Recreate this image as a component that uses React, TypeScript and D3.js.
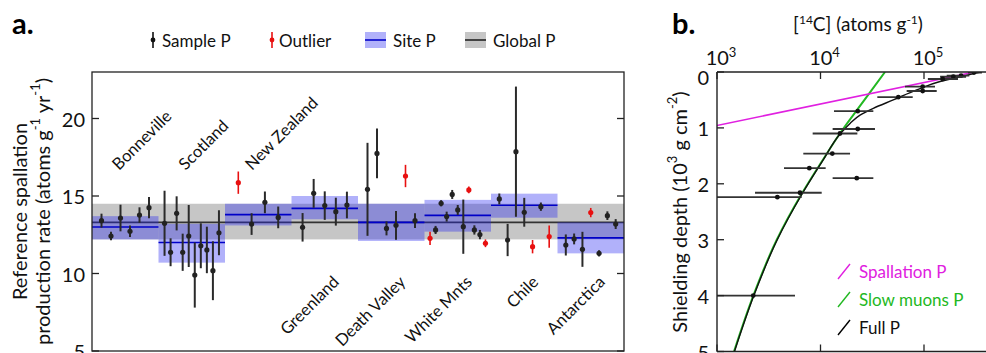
import * as d3 from "d3";
import { useEffect, useRef } from "react";

const W = 986;
const H = 353;

// panel a: sites and production rates (atoms g-1 yr-1)
const sites = ["Bonneville", "Scotland", "New Zealand", "Greenland", "Death Valley", "White Mnts", "Chile", "Antarctica"];
const labelAbove = [true, true, true, false, false, false, false, false];
const siteP = [13.0, 12.0, 13.8, 14.2, 13.3, 13.75, 14.4, 12.3];
const siteLow = [12.2, 10.7, 13.1, 13.5, 12.1, 12.7, 13.6, 11.3];
const siteHigh = [13.7, 13.2, 14.5, 15.0, 14.5, 14.75, 15.15, 13.3];
const globalP = 13.3;
const globalLow = 12.2;
const globalHigh = 14.5;

// samples per site
const sampleP = [
  [13.41, 12.42, 13.58, 12.72, 13.77, 14.25],
  [13.24, 11.37, 13.88, 11.37, 12.42, 9.9, 11.79, 11.52, 10.18, 12.63],
  [15.86, 13.19, 14.59, 13.62],
  [12.98, 15.17, 14.38, 13.99, 14.42],
  [15.43, 17.75, 12.91, 13.11, 16.29, 13.41],
  [12.27, 12.81, 14.53, 13.67, 15.1, 14.1, 13.02, 15.39, 12.81, 12.51, 11.95],
  [14.81, 12.16, 17.86, 13.95, 11.73, 14.31, 12.38],
  [11.84, 12.23, 11.56, 13.93, 11.3, 13.73, 13.19],
];
const sampleErr = [
  [0.45, 0.27, 0.86, 0.37, 0.5, 0.68],
  [2.1, 0.9, 1.1, 1.2, 2.0, 2.1, 1.45, 1.5, 1.9, 1.45],
  [0.72, 0.7, 0.7, 0.7],
  [0.92, 0.93, 0.92, 0.9, 0.86],
  [3.0, 1.6, 0.45, 0.93, 0.72, 0.48],
  [0.43, 0.26, 0.2, 0.32, 0.29, 0.32, 1.75, 0.22, 0.3, 0.3, 0.25],
  [0.35, 1.04, 4.2, 0.93, 0.43, 0.27, 0.72],
  [0.68, 0.35, 1.13, 0.3, 0.2, 0.28, 0.32],
];
const outliers = [[], [], [0], [], [4], [0, 7, 10], [4, 6], [3]];
const yTicksA = [5, 10, 15, 20];

// panel b: depth profile
const depth = [0.01, 0.066, 0.085, 0.125, 0.26, 0.34, 0.45, 0.7, 1.02, 1.1, 1.46, 1.72, 1.9, 2.16, 2.24, 4.0];
const conc = [304000, 228000, 192000, 151600, 97100, 97100, 56500, 22900, 22900, 15420, 13000, 7800, 22400, 6340, 3830, 2240];
const concLow = [266000, 165700, 143000, 109000, 65500, 68000, 35400, 13500, 13100, 8400, 6820, 4440, 13100, 2330, 500, 500];
const concHigh = [363000, 274000, 255000, 213000, 127700, 132700, 77800, 32400, 33600, 22700, 19300, 11220, 32400, 10270, 6580, 5670];

const spallDepth = [0, 1.05];
const spallConc = [310000, 570];
const muonDepth = [0, 0.5, 1.1, 1.6, 2.2, 3.0, 4.0, 5.0];
const muonConc = [42000, 26600, 15400, 10300, 6480, 3780, 2245, 1460];
const fullDepth = [0, 0.1, 0.17, 0.32, 0.5, 0.65, 0.77, 0.92, 1.1, 1.6, 2.2, 3.0, 4.0, 5.0];
const fullConc = [350000, 208000, 143000, 85000, 50500, 32400, 24100, 19300, 15600, 10400, 6550, 3820, 2270, 1475];
const xTicksB = [1e3, 1e4, 1e5];
const yTicksB = [0, 1, 2, 3, 4, 5];

const legendB = [
  { name: "Spallation P", color: "#e020e0" },
  { name: "Slow muons P", color: "#22b822" },
  { name: "Full P", color: "#000" },
];

const FONT = "Lato, 'Open Sans', sans-serif";

const App = () => {
  const ref = useRef(null);

  useEffect(() => {
    const svg = d3.select(ref.current);
    svg.selectAll("*").remove();
    svg.attr("font-family", FONT);

    // ---------- panel a ----------
    const ax = { left: 92, right: 624, top: 72, bottom: 351 };
    const scaleX = d3.scaleBand().domain(sites).range([ax.left, ax.right]);
    const scaleY = d3.scaleLinear().domain([5, 23]).range([ax.bottom, ax.top]);
    const bw = scaleX.bandwidth();

    const ga = svg.append("g");
    ga.append("rect")
      .attr("x", ax.left).attr("width", ax.right - ax.left)
      .attr("y", scaleY(globalHigh)).attr("height", scaleY(globalLow) - scaleY(globalHigh))
      .attr("fill", "#c6c6c6");
    ga.append("line")
      .attr("x1", ax.left).attr("x2", ax.right)
      .attr("y1", scaleY(globalP)).attr("y2", scaleY(globalP))
      .attr("stroke", "#333").attr("stroke-width", 1.6);

    sites.forEach((s, i) => {
      ga.append("rect")
        .attr("x", scaleX(s)).attr("width", bw)
        .attr("y", scaleY(siteHigh[i])).attr("height", scaleY(siteLow[i]) - scaleY(siteHigh[i]))
        .attr("fill", "rgba(40,40,240,0.36)");
      ga.append("line")
        .attr("x1", scaleX(s)).attr("x2", scaleX(s) + bw)
        .attr("y1", scaleY(siteP[i])).attr("y2", scaleY(siteP[i]))
        .attr("stroke", "#0000c8").attr("stroke-width", 1.6);
    });

    sites.forEach((s, i) => {
      const n = sampleP[i].length;
      sampleP[i].forEach((v, j) => {
        const out = outliers[i].includes(j);
        const cx = scaleX(s) + (bw * (j + 1)) / (n + 1);
        const col = out ? "#e81010" : "#222";
        ga.append("line")
          .attr("x1", cx).attr("x2", cx)
          .attr("y1", scaleY(v - sampleErr[i][j])).attr("y2", scaleY(v + sampleErr[i][j]))
          .attr("stroke", out ? col : "#2a2a2a").attr("stroke-width", out ? 1.6 : 2);
        ga.append("circle").attr("cx", cx).attr("cy", scaleY(v)).attr("r", 2.6).attr("fill", col);
      });
    });

    // site labels
    sites.forEach((s, i) => {
      const above = labelAbove[i];
      const x = above ? scaleX(s) + 27 : scaleX(s) + bw - 18;
      const y = above ? 171 : 283;
      ga.append("text")
        .attr("x", x).attr("y", y)
        .attr("transform", `rotate(-45, ${x}, ${y})`)
        .attr("text-anchor", above ? "start" : "end")
        .attr("font-size", 16.5)
        .attr("fill", "#111")
        .text(s);
    });

    // frame and ticks
    ga.append("rect")
      .attr("x", ax.left).attr("y", ax.top)
      .attr("width", ax.right - ax.left).attr("height", ax.bottom - ax.top)
      .attr("fill", "none").attr("stroke", "#222").attr("stroke-width", 1.3);
    yTicksA.forEach((t) => {
      const y = scaleY(t);
      ga.append("line").attr("x1", ax.left).attr("x2", ax.left + 7).attr("y1", y).attr("y2", y).attr("stroke", "#222").attr("stroke-width", 1.3);
      ga.append("line").attr("x1", ax.right - 7).attr("x2", ax.right).attr("y1", y).attr("y2", y).attr("stroke", "#222").attr("stroke-width", 1.3);
      ga.append("text")
        .attr("x", ax.left - 7).attr("y", y)
        .attr("text-anchor", "end").attr("dominant-baseline", "central")
        .attr("font-size", 20).attr("fill", "#111")
        .text(t);
    });

    // y title
    const cy = (ax.top + ax.bottom) / 2;
    ga.append("text")
      .attr("x", 19).attr("y", cy)
      .attr("transform", `rotate(-90, 19, ${cy})`)
      .attr("text-anchor", "middle").attr("dominant-baseline", "central")
      .attr("font-size", 20).attr("fill", "#111")
      .text("Reference spallation");
    const t2 = ga.append("text")
      .attr("x", 42).attr("y", cy)
      .attr("transform", `rotate(-90, 42, ${cy})`)
      .attr("text-anchor", "middle").attr("dominant-baseline", "central")
      .attr("font-size", 20).attr("fill", "#111");
    t2.append("tspan").text("production rate (atoms g");
    t2.append("tspan").attr("dy", -7).attr("font-size", 13).text("-1");
    t2.append("tspan").attr("dy", 7).text(" yr");
    t2.append("tspan").attr("dy", -7).attr("font-size", 13).text("-1");
    t2.append("tspan").attr("dy", 7).text(")");

    ga.append("text").attr("x", 12).attr("y", 34).attr("font-size", 29).attr("font-weight", "bold").text("a.");

    // legend a
    const lg = ga.append("g").attr("font-size", 17).attr("fill", "#111");
    const ly = 40;
    [
      { x: 153, col: "#111" },
      { x: 272, col: "#e81010" },
    ].forEach((m) => {
      lg.append("line").attr("x1", m.x).attr("x2", m.x).attr("y1", ly - 8).attr("y2", ly + 8).attr("stroke", m.col).attr("stroke-width", 1.6);
      lg.append("circle").attr("cx", m.x).attr("cy", ly).attr("r", 2.4).attr("fill", m.col);
    });
    lg.append("rect").attr("x", 365).attr("y", ly - 8).attr("width", 21).attr("height", 16).attr("fill", "rgba(40,40,240,0.36)");
    lg.append("line").attr("x1", 365).attr("x2", 386).attr("y1", ly).attr("y2", ly).attr("stroke", "#0000c8").attr("stroke-width", 1.6);
    lg.append("rect").attr("x", 465).attr("y", ly - 8).attr("width", 21).attr("height", 16).attr("fill", "#c6c6c6");
    lg.append("line").attr("x1", 465).attr("x2", 486).attr("y1", ly).attr("y2", ly).attr("stroke", "#222").attr("stroke-width", 1.6);
    [
      { x: 162, t: "Sample P" },
      { x: 279, t: "Outlier" },
      { x: 393, t: "Site P" },
      { x: 493, t: "Global P" },
    ].forEach((d) => {
      lg.append("text").attr("x", d.x).attr("y", ly).attr("dominant-baseline", "central").text(d.t);
    });

    // ---------- panel b ----------
    const bx = { left: 717, top: 72, bottom: 351.5 };
    const xB = d3.scaleLog().domain([1e3, Math.pow(10, 5.7)]).range([bx.left, bx.left + 2.7 * 103.5]);
    const yB = d3.scaleLinear().domain([0, 5]).range([bx.top, bx.bottom]);

    const gb = svg.append("g");
    svg.append("defs").append("clipPath").attr("id", "clipB")
      .append("rect").attr("x", bx.left).attr("y", bx.top).attr("width", 400).attr("height", bx.bottom - bx.top);

    const plot = gb.append("g").attr("clip-path", "url(#clipB)");
    const line = (ds: number[], cs: number[]) =>
      d3.line<number>().x((_, i) => xB(cs[i])).y((d) => yB(d)).curve(d3.curveMonotoneY)(ds);

    plot.append("path").attr("d", line(muonDepth, muonConc)).attr("fill", "none").attr("stroke", "#22b822").attr("stroke-width", 2);
    plot.append("path").attr("d", line(spallDepth, spallConc)).attr("fill", "none").attr("stroke", "#e020e0").attr("stroke-width", 1.6);
    plot.append("path").attr("d", line(fullDepth, fullConc)).attr("fill", "none").attr("stroke", "#111").attr("stroke-width", 1.4);

    depth.forEach((d, i) => {
      plot.append("line")
        .attr("x1", xB(concLow[i])).attr("x2", xB(concHigh[i]))
        .attr("y1", yB(d)).attr("y2", yB(d))
        .attr("stroke", "#333").attr("stroke-width", 1.8);
      plot.append("circle").attr("cx", xB(conc[i])).attr("cy", yB(d)).attr("r", 2.4).attr("fill", "#111");
    });

    // axes
    gb.append("line").attr("x1", bx.left).attr("x2", W).attr("y1", bx.top).attr("y2", bx.top).attr("stroke", "#222").attr("stroke-width", 1.4);
    gb.append("line").attr("x1", bx.left).attr("x2", W).attr("y1", bx.bottom).attr("y2", bx.bottom).attr("stroke", "#222").attr("stroke-width", 1.4);
    gb.append("line").attr("x1", bx.left).attr("x2", bx.left).attr("y1", bx.top).attr("y2", bx.bottom).attr("stroke", "#222").attr("stroke-width", 1.4);

    xTicksB.forEach((t) => {
      const x = xB(t);
      gb.append("line").attr("x1", x).attr("x2", x).attr("y1", bx.top).attr("y2", bx.top + 7).attr("stroke", "#222").attr("stroke-width", 1.3);
      gb.append("line").attr("x1", x).attr("x2", x).attr("y1", bx.bottom - 7).attr("y2", bx.bottom).attr("stroke", "#222").attr("stroke-width", 1.3);
      const tx = gb.append("text").attr("x", x + 4).attr("y", 65).attr("text-anchor", "middle").attr("font-size", 20).attr("fill", "#111");
      tx.append("tspan").text("10");
      tx.append("tspan").attr("dy", -8).attr("font-size", 13).text(String(Math.round(Math.log10(t))));
    });

    yTicksB.forEach((t) => {
      const y = yB(t);
      gb.append("line").attr("x1", bx.left).attr("x2", bx.left + 7).attr("y1", y).attr("y2", y).attr("stroke", "#222").attr("stroke-width", 1.3);
      gb.append("text")
        .attr("x", bx.left - 8).attr("y", t === 0 ? y + 5 : y)
        .attr("text-anchor", "end").attr("dominant-baseline", "central")
        .attr("font-size", 20).attr("fill", "#111")
        .text(t);
    });

    const ty = gb.append("text")
      .attr("x", 679).attr("y", 212)
      .attr("transform", "rotate(-90, 679, 212)")
      .attr("text-anchor", "middle").attr("dominant-baseline", "central")
      .attr("font-size", 20).attr("fill", "#111");
    ty.append("tspan").text("Shielding depth (10");
    ty.append("tspan").attr("dy", -7).attr("font-size", 13).text("3");
    ty.append("tspan").attr("dy", 7).text(" g cm");
    ty.append("tspan").attr("dy", -7).attr("font-size", 13).text("-2");
    ty.append("tspan").attr("dy", 7).text(")");

    const tt = gb.append("text").attr("x", 858).attr("y", 31).attr("text-anchor", "middle").attr("font-size", 19).attr("fill", "#111");
    tt.append("tspan").text("[");
    tt.append("tspan").attr("dy", -7).attr("font-size", 12).text("14");
    tt.append("tspan").attr("dy", 7).text("C] (atoms g");
    tt.append("tspan").attr("dy", -7).attr("font-size", 12).text("-1");
    tt.append("tspan").attr("dy", 7).text(")");

    gb.append("text").attr("x", 672).attr("y", 34).attr("font-size", 29).attr("font-weight", "bold").text("b.");

    legendB.forEach((d, i) => {
      const y = 271 + i * 28;
      gb.append("line").attr("x1", 838).attr("x2", 850).attr("y1", y + 8).attr("y2", y - 7).attr("stroke", d.color).attr("stroke-width", 1.4);
      gb.append("text").attr("x", 859).attr("y", y).attr("dominant-baseline", "central")
        .attr("font-size", 17).attr("fill", d.color === "#000" ? "#111" : d.color).text(d.name);
    });
  }, []);

  return <svg ref={ref} width={W} height={H} style={{ position: "absolute", left: 0, top: 0, background: "#fff" }} />;
};

export default App;
